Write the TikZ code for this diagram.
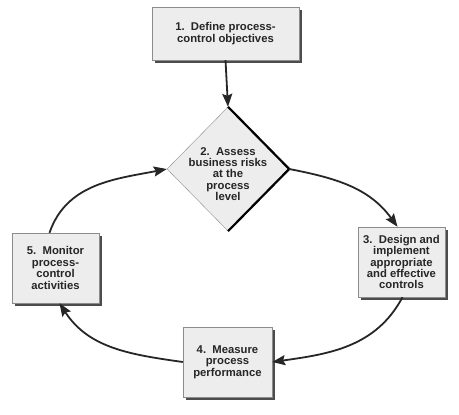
\documentclass[tikz,border=0pt]{standalone}
\usepackage{fontspec}
\setmainfont{Liberation Sans}
\usetikzlibrary{shapes.geometric,shadows,arrows.meta}
\begin{document}
\begin{tikzpicture}[x=1pt,y=1pt,
		steptext/.style={align=center,font=\fontsize{11.3}{11.4}\selectfont\bfseries,text=black!85},
		stepbox/.style={steptext,draw=black!45,fill=black!7,inner sep=0pt,minimum width=87pt,minimum height=70pt,drop shadow={shadow xshift=3pt,shadow yshift=-3pt,fill=black!70,opacity=1}},
		riskdiamond/.style={diamond,draw=black!45,fill=black!7,inner sep=0pt,minimum width=122pt,minimum height=124pt},
		cyclearrow/.style={draw=black!85,line width=1.8pt,-{Stealth[length=13pt,width=10pt,inset=2pt]}}]
	\useasboundingbox (0,0) rectangle (459,-415);
	\node [stepbox,minimum width=147pt,minimum height=53pt] (define) at (225.5,-33.5) {1.\ \ Define process-\\control objectives};
	\node [riskdiamond,label={[steptext,yshift=-5pt]center:2.\ \ Assess\\business risks\\at the\\process\\level}] (risk) at (228,-169) {};
	\draw [black,line width=2.2pt] (risk.north) -- (risk.east) -- (risk.south);
	\node [stepbox] (design) at (401.5,-262) {3.\ \ Design and\\implement\\appropriate\\and effective\\controls};
	\node [stepbox,minimum width=89pt] (measure) at (227.5,-362) {4.\ \ Measure\\process\\performance};
	\node [stepbox] (monitor) at (55.5,-268) {5.\ \ Monitor\\process-\\control\\activities};
	\draw [cyclearrow] (define.south) -- (risk.north);
	\draw [cyclearrow] (risk.east) to [out=-11,in=126] ([xshift=-4pt]design.north);
	\draw [cyclearrow] ([xshift=1pt]design.south) to [out=-118,in=8] (measure.east);
	\draw [cyclearrow] (measure.west) to [out=172,in=-57] ([xshift=4pt]monitor.south);
	\draw [cyclearrow] ([xshift=-6pt]monitor.north) to [out=71,in=191] (risk.west);
\end{tikzpicture}
\end{document}
